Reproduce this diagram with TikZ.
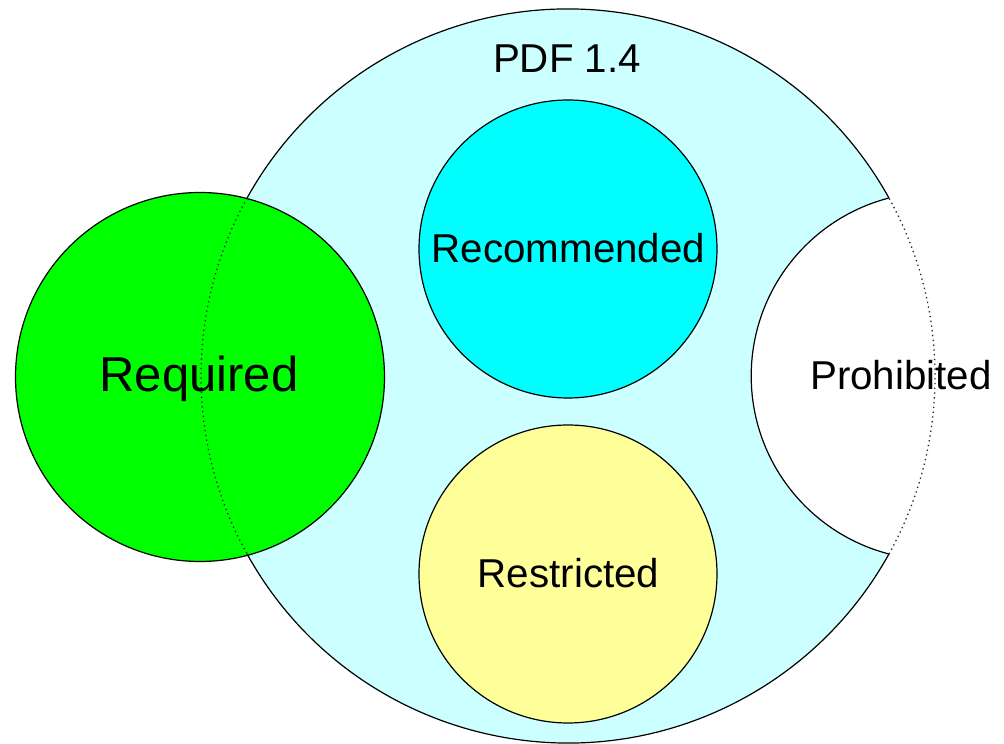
\documentclass[tikz,border=0pt]{standalone}
\usepackage{fontspec}
\setmainfont{Liberation Sans}
\definecolor{pdffill}{HTML}{CCFFFF}
\definecolor{reqgreen}{HTML}{00FF00}
\definecolor{reccyan}{HTML}{00FFFF}
\definecolor{resyellow}{HTML}{FFFF99}
\tikzset{
  region/.style={draw=black, line width=1.2pt},
  edgedots/.style={draw=black!85, line width=1.3pt, dash pattern=on 1.3pt off 3.5pt},
  txt/.style={inner sep=0pt, anchor=base, font=\fontsize{40.3}{48}\selectfont},
  bigtxt/.style={txt, font=\fontsize{49}{58}\selectfont},
}
\begin{document}
\begin{tikzpicture}[x=1pt,y=1pt]
\useasboundingbox (0,0) rectangle (1004,744);
% centres of the sets
\coordinate (pdf) at (568,368);
\coordinate (req) at (200,367);
\coordinate (pro) at (935,368);
\coordinate (rec) at (568,495);
\coordinate (res) at (568,170);
% PDF 1.4 set
\fill[pdffill] (pdf) circle[radius=367pt];
% prohibited part, cut out of the PDF 1.4 set
\begin{scope}
  \clip (pdf) circle[radius=367pt];
  \filldraw[fill=white, region] (pro) circle[radius=183.8pt];
\end{scope}
% required set
\filldraw[fill=reqgreen, region] (req) circle[radius=184.5pt];
% outline of the PDF 1.4 set: solid outside, dotted where it is overlapped
\draw[region] (pdf) ++(29:367pt) arc[start angle=29, end angle=151, radius=367pt];
\draw[region] (pdf) ++(209:367pt) arc[start angle=209, end angle=331, radius=367pt];
\draw[edgedots] (pdf) ++(-29:367pt) arc[start angle=-29, end angle=29, radius=367pt];
\draw[edgedots] (pdf) ++(151:367pt) arc[start angle=151, end angle=209, radius=367pt];
% recommended and restricted sets
\filldraw[fill=reccyan, region] (rec) circle[radius=149pt];
\filldraw[fill=resyellow, region] (res) circle[radius=149pt];
% labels
\node[txt] (tpdf) at (567,671.3) {PDF 1.4};
\node[txt] (trec) at (568.5,481) {Recommended};
\node[txt] (tres) at (568.5,156.7) {Restricted};
\node[txt] (tpro) at (901,354) {Prohibited};
\node[bigtxt] (treq) at (199,352) {Required};
\end{tikzpicture}
\end{document}
